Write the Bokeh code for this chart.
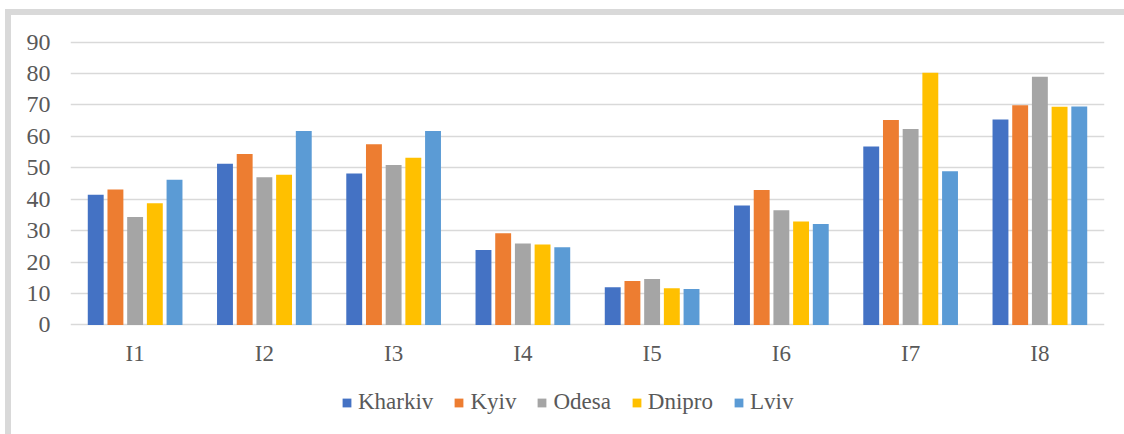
from bokeh.plotting import figure
from bokeh.models import ColumnDataSource, FactorRange, Range1d, FixedTicker
from bokeh.transform import dodge
from bokeh.core.properties import value
from bokeh.embed import file_html
from bokeh.resources import INLINE

categories = ["I1", "I2", "I3", "I4", "I5", "I6", "I7", "I8"]
kharkiv = [41.4, 51.3, 48.2, 23.8, 12.0, 38.0, 56.8, 65.4]
kyiv = [43.1, 54.4, 57.5, 29.2, 14.0, 42.9, 65.2, 69.9]
odesa = [34.3, 47.0, 50.9, 25.9, 14.6, 36.5, 62.3, 79.0]
dnipro = [38.7, 47.8, 53.2, 25.6, 11.7, 32.9, 80.2, 69.4]
lviv = [46.2, 61.7, 61.7, 24.7, 11.4, 32.1, 48.9, 69.5]
series_names = ["Kharkiv", "Kyiv", "Odesa", "Dnipro", "Lviv"]
y_ticks = [0, 10, 20, 30, 40, 50, 60, 70, 80, 90]

colors = ["#4472C4", "#ED7D31", "#A5A5A5", "#FFC000", "#5B9BD5"]
FONT = "Liberation Serif"
FONT_LIST = "'Liberation Serif', serif"
TXT = "#595959"
LABEL_Y = -9.0  # category label row, below the zero line

source = ColumnDataSource(dict(cat=categories, Kharkiv=kharkiv, Kyiv=kyiv,
                               Odesa=odesa, Dnipro=dnipro, Lviv=lviv))

p = figure(x_range=FactorRange(*categories, range_padding=0),
           y_range=Range1d(-33.6, 90.5),
           width=1124, height=434,
           min_border_left=70, min_border_right=20,
           min_border_top=40, min_border_bottom=4,
           output_backend="svg", toolbar_location=None)
p.styles = {"box-shadow": "inset 5px 9px 0 0 #ffffff, inset 11px 15px 0 0 #d9d9d9"}

pitch = 0.1524
bw = 0.123
for i, (name, col) in enumerate(zip(series_names, colors)):
    p.vbar(x=dodge("cat", (i - 2) * pitch, range=p.x_range), top=name, bottom=0,
           width=bw, source=source, fill_color=col, line_color=None,
           legend_label=name)

p.text(x="cat", y=LABEL_Y, text="cat", source=source,
       text_font=value(FONT), text_font_size=value("23px"), text_color=TXT,
       text_align="center", text_baseline="middle")

p.outline_line_color = None
p.background_fill_color = "white"
p.border_fill_alpha = 0

p.xaxis.visible = False
p.xgrid.grid_line_color = None
p.ygrid.grid_line_color = "#d9d9d9"
p.ygrid.grid_line_width = 1.5
p.yaxis.ticker = FixedTicker(ticks=y_ticks)

ax = p.yaxis[0]
ax.axis_line_color = None
ax.major_tick_line_color = None
ax.minor_tick_line_color = None
ax.major_tick_in = 0
ax.major_tick_out = 0
ax.major_label_text_font = FONT_LIST
ax.major_label_text_font_size = "24px"
ax.major_label_text_color = TXT
ax.major_label_standoff = 20

lg = p.legend[0]
lg.orientation = "horizontal"
lg.location = (271, 15)
lg.padding = 0
lg.margin = 0
lg.spacing = 20
lg.glyph_width = 11
lg.glyph_height = 11
lg.label_standoff = 6
lg.label_text_font = FONT_LIST
lg.label_text_font_size = "23px"
lg.label_text_color = TXT
lg.border_line_color = None
lg.background_fill_alpha = 0

open("out.html", "w").write(file_html(p, INLINE))
